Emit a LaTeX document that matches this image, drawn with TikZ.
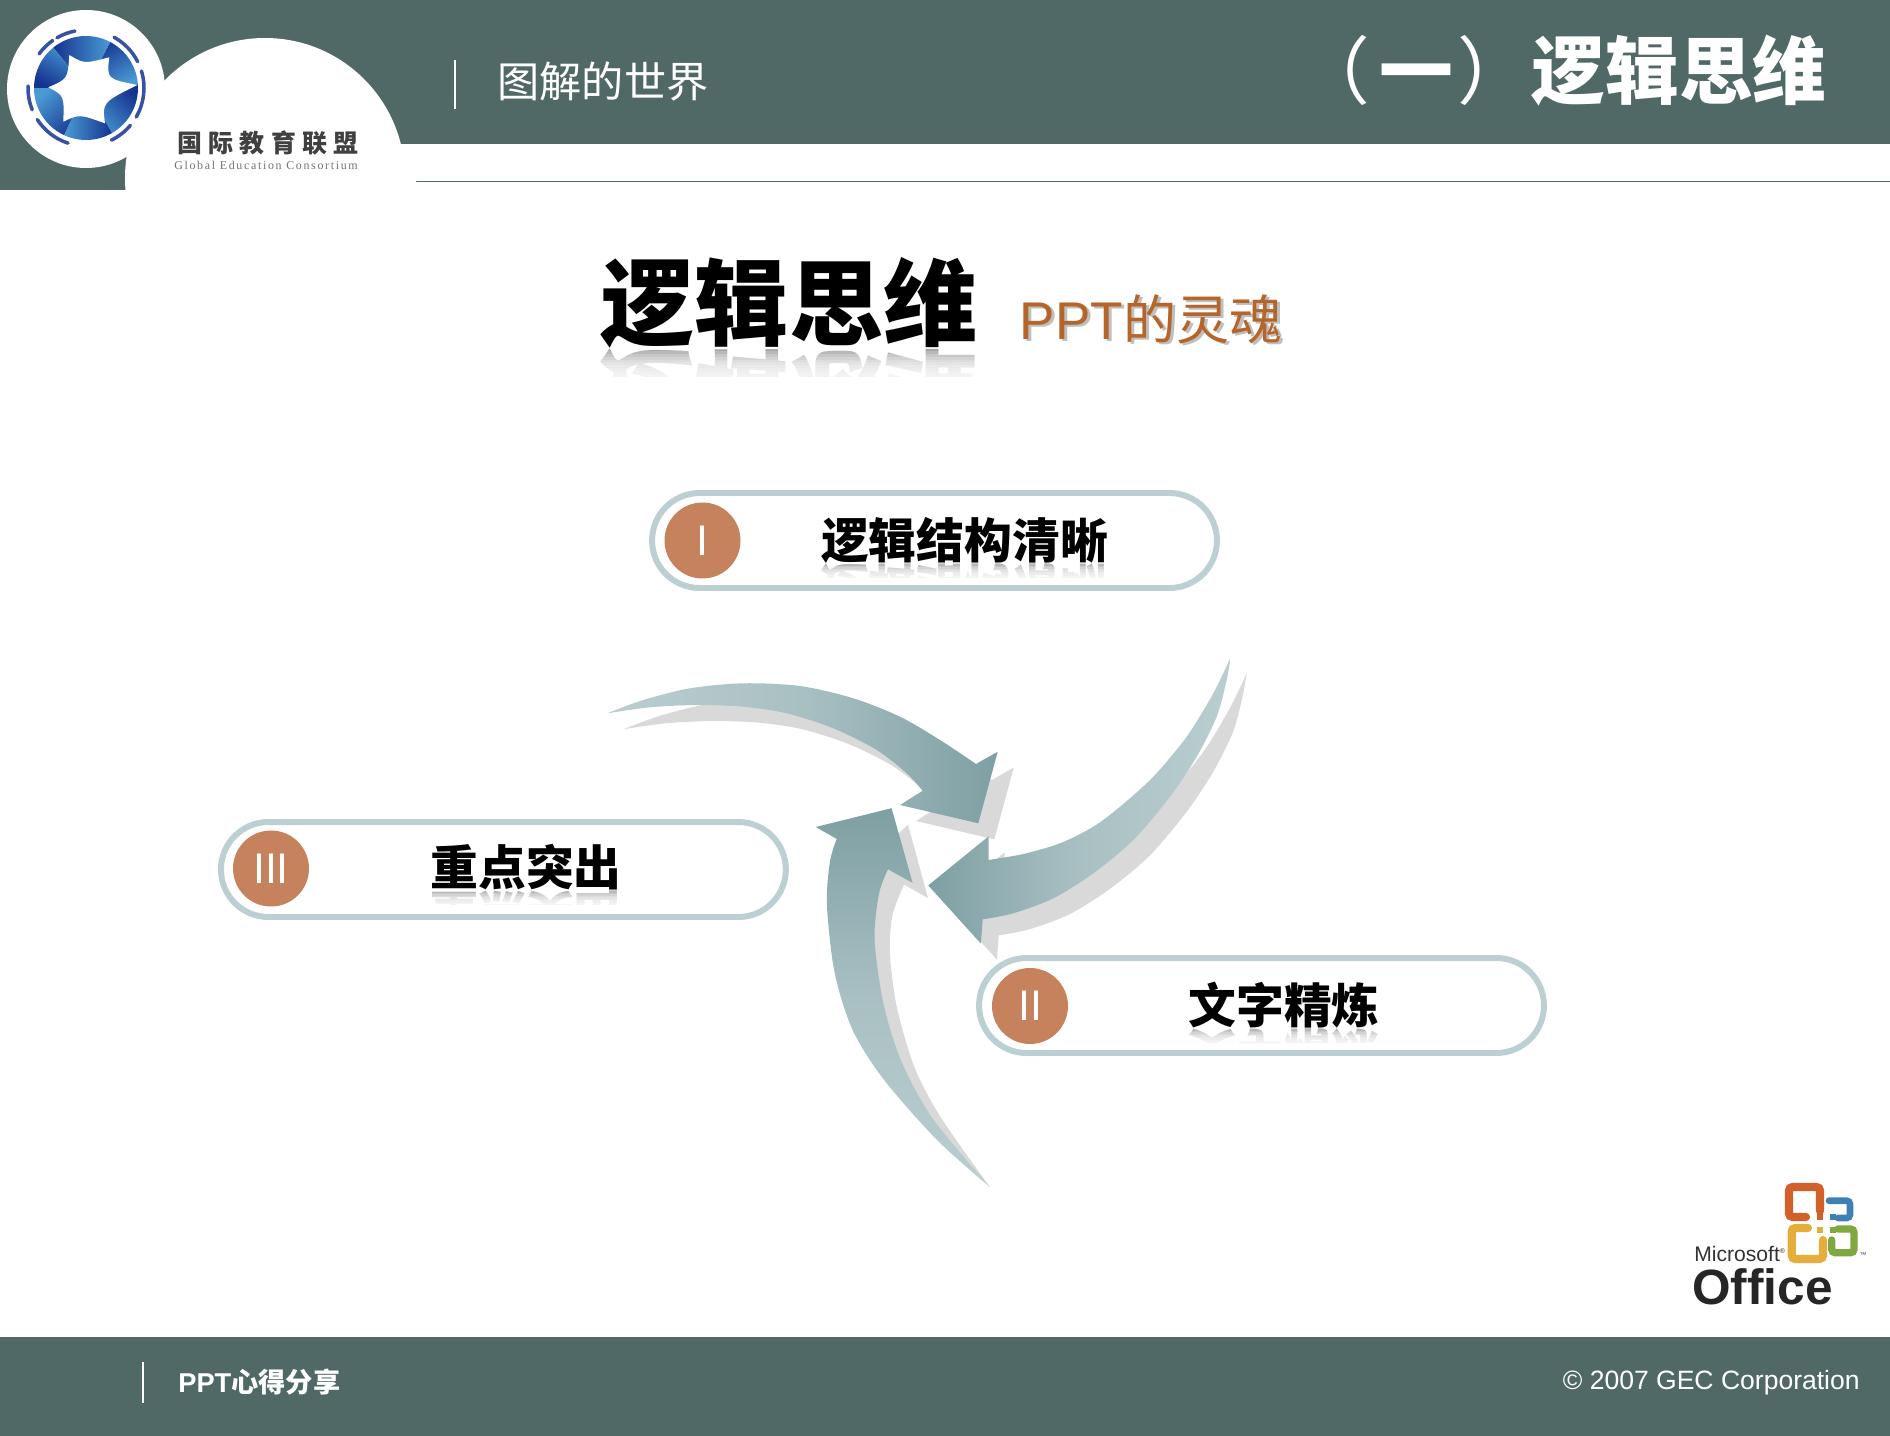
\documentclass[tikz,border=0pt]{standalone}
\usepackage{xcolor}
\usepackage{fontspec}
\usepackage{tikz}
\setmainfont{Liberation Sans}
\newfontfamily\cjk{Noto Sans CJK SC}
\newfontfamily\cjklogo[LetterSpace=25]{Noto Sans CJK SC}
\newfontfamily\serlogo[LetterSpace=14]{Liberation Serif}
\definecolor{bandgreen}{HTML}{516966}
\definecolor{pillgrey}{HTML}{BCCFD2}
\definecolor{numorange}{HTML}{C6825C}
\definecolor{soulbrown}{HTML}{B5652A}
\definecolor{shadowgrey}{HTML}{D9D9D9}
\definecolor{arrowlight}{HTML}{BACED0}
\definecolor{arrowmid}{HTML}{A9C0C3}
\definecolor{arrowdark}{HTML}{7E9FA3}
\definecolor{logodark}{HTML}{15348F}
\definecolor{logolight}{HTML}{4A9AD4}
\definecolor{offorange}{HTML}{D2602A}
\definecolor{offblue}{HTML}{3F7FB5}
\definecolor{offyellow}{HTML}{E5AE3A}
\definecolor{offgreen}{HTML}{7FA843}
\tikzset{
 pill/.style={draw=pillgrey, line width=3.4pt, fill=white, minimum width=11.3cm,
  minimum height=1.9cm, rounded corners=.95cm, inner sep=0},
 numcircle/.style={circle, fill=numorange, minimum size=1.52cm, inner sep=0,
  text=white, font=\fontsize{24.4}{26}\selectfont},
 pilltext/.style={inner sep=0, font=\fontsize{27.2}{30}\selectfont\cjk\bfseries},
 titletext/.style={inner sep=0, font=\fontsize{53.6}{58}\selectfont\cjk\bfseries},
 soultext/.style={inner sep=0, font=\fontsize{30.2}{33}\selectfont},
 bandtext/.style={inner sep=0, text=white},
 officebar/.style={line width=4.6pt, rounded corners=2pt, line cap=round},
}
\newcommand{\arrowA}{plot[smooth] coordinates {(607.3,713.3) (643.3,700) (690,688.3)
 (743.3,683.3) (800,686) (853.3,698.3) (900,716.7) (940,740) (976,764)}
 -- (997.7,751.7) -- (978.3,823.3) -- (900,805) -- (922.7,790.7)
 -- plot[smooth] coordinates {(922.7,790.7) (906.7,773.3) (876.7,750) (833.3,728.3)
 (786.7,713.3) (743.3,706.7) (696.7,705) (650,707.3) (607.3,713.3)} -- cycle}
\newcommand{\arrowB}{plot[smooth] coordinates {(1230.7,657.3) (1213.3,693.3)
 (1186.7,736.7) (1153.3,776.7) (1120,806.7) (1093.3,826.7) (1060,843.3) (1023.3,854) (988.5,860)}
 -- (988.5,836.4) -- (928.2,885.4) -- (980.9,943.6) -- (982.7,919.3)
 -- plot[smooth] coordinates {(982.7,919.3) (1013.3,913.3) (1053.3,898.3) (1093.3,873.3)
 (1133.3,840) (1170,796.7) (1196.7,756.7) (1216.7,716.7) (1226.7,680) (1230.7,657.3)} -- cycle}
\newcommand{\arrowC}{plot[smooth] coordinates {(989.8,1187) (937,1140)
 (883.6,1079.3) (852.3,1029.3) (834.5,972) (826.9,904.3) (830,861.4) (836.7,839)}
 -- (815.7,827) -- (891.6,808.2) -- (912.6,882.9) -- (888,869.3)
 -- plot[smooth] coordinates {(888,869.3) (879,893.6) (874.6,940)
 (883.6,1004.3) (901.4,1061.4) (932.7,1118.6) (989.8,1187)} -- cycle}
\newcommand{\shadowC}{(908,824.6) -- (928,898) -- (904,884.6)
 -- plot[smooth] coordinates {(904,884.6) (892.5,915) (890,954) (897,1008)
 (915,1068.6) (941.6,1118.6) (989.8,1187)} -- (925,1118) -- (890,1060) -- (870,1000) -- (860,870) -- cycle}
\newcommand{\mirrortext}[6]{
 \begin{scope}
  \clip ({#2-200},#3) rectangle ({#2+200},{#3+.32*#4});
  \node[#5, text=black!45] (#1) at (#2,{#3+.5*#4+1}) {\scalebox{1}[-1]{#6}};
  \foreach \s in {0,1,...,9} {
   \fill[white, opacity=.22] ({#2-200},{#3+.032*#4*\s}) rectangle ({#2+200},{#3+.32*#4});
  }
 \end{scope}
}

\begin{document}
\begin{tikzpicture}[x=.02cm, y=-.02cm]
\useasboundingbox (0,0) rectangle (1890,1436);
\fill[white] (0,0) rectangle (1890,1436);
% bands
\fill[bandgreen] (0,0) rectangle (1890,144);
\fill[bandgreen] (0,144) rectangle (126,190);
\fill[bandgreen] (126,144) rectangle (140,170);
\fill[bandgreen] (0,1337) rectangle (1890,1436);
\draw[bandgreen, line width=.9pt] (416,181.5) -- (1890,181.5);
\fill[white] (265,178) circle (140);
\fill[white] (86,89) circle (79);
% logo
\foreach \a/\b/\t in {231/298/-90, 298/356/-150, 356/420/135, 420/475/90, 475/540/45, 540/591/-30} {
 \shade[top color=logolight, bottom color=logodark, shading angle=\t]
  (86,88) -- +(\a:52) arc[start angle=\a, end angle=\b, radius=52] -- cycle;
}
\fill[white] (48.3,87.3) .. controls (67.8,78.85) .. (69.3,55)
 .. controls (84.1,63.85) .. (109.3,57.3) .. controls (106.7,78.85) .. (137.3,85)
 .. controls (102.25,102.45) .. (105,123.3) .. controls (79.25,114.1) .. (63.3,121.7)
 .. controls (64.2,95.5) .. (48.3,87.3) -- cycle;
\foreach \a/\b in {216/235, 240/259, 299/333, 343/390, 400/424, 468/507, 518/542} {
 \draw[logodark!85!white, line width=2pt, line cap=round] (86,88) ++(\a:58) arc[start angle=\a, end angle=\b, radius=58];
}
\node[inner sep=0, text=black!75] (logocn) at (268,143) {\fontsize{14.2}{16}\selectfont\cjklogo\bfseries 国际教育联盟};
\node[inner sep=0, text=black!55] (logoen) at (266,165) {\fontsize{6.8}{8}\selectfont\serlogo Global Education Consortium};
% header and footer
\draw[white, line width=.9pt] (455,60) -- (455,109);
\node[bandtext] (topic) at (603,82) {\fontsize{24}{26}\selectfont\cjk 图解的世界};
\node[bandtext, anchor=east] (chapter) at (1827,71) {\fontsize{42}{46}\selectfont\cjk （\kern5pt\bfseries 一\kern2.5pt\mdseries ）\bfseries 逻辑思维};
\draw[white, line width=.9pt] (143,1362) -- (143,1403);
\node[bandtext, anchor=west] (share) at (178,1382) {\fontsize{15.5}{17}\selectfont\bfseries PPT\cjk 心得分享};
\node[bandtext, anchor=east] (copyr) at (1860,1383) {\fontsize{15.1}{17}\selectfont © 2007 GEC Corporation};
% title
\node[titletext] (title) at (789,303) {逻辑思维};
\mirrortext{titlemirror}{789}{348}{90}{titletext}{逻辑思维}
\node[soultext, text=black!25, anchor=west] (soulshadow) at (1022.5,321.5) {PPT\cjk 的灵魂};
\node[soultext, text=soulbrown, anchor=west] (soul) at (1019.5,319) {PPT\cjk 的灵魂};
% arrows
\fill[shadowgrey, shift={(16,16)}] \arrowA;
\shade[left color=arrowlight, right color=arrowdark, middle color=arrowmid] \arrowA;
\fill[shadowgrey, shift={(16,16)}] \arrowB;
\shade[left color=arrowdark, right color=arrowlight, middle color=arrowmid] \arrowB;
\fill[shadowgrey] \shadowC;
\shade[top color=arrowdark, bottom color=arrowlight, middle color=arrowmid] \arrowC;
% pills
\node[pill] (pillone) at (934.5,540.5) {};
\node[pill] (pilltwo) at (1261.5,1005.5) {};
\node[pill] (pillthree) at (503.4,869.5) {};
\node[numcircle] (numone) at (702.5,540.5) {I};
\node[numcircle] (numtwo) at (1030,1006) {II};
\node[numcircle] (numthree) at (271,868.5) {III};
\node[pilltext] (textone) at (964.5,540) {逻辑结构清晰};
\mirrortext{onemirror}{964.5}{563}{46}{pilltext}{逻辑结构清晰}
\node[pilltext] (texttwo) at (1284,1005) {文字精炼};
\mirrortext{twomirror}{1284}{1028}{46}{pilltext}{文字精炼}
\node[pilltext] (textthree) at (526,867) {重点突出};
\mirrortext{threemirror}{526}{890}{46}{pilltext}{重点突出}
% office logo
\draw[officebar, draw=offorange] (1820,1211) -- (1820,1187) -- (1789,1187) -- (1789,1217) -- (1806,1217);
\draw[officebar, draw=offblue, line width=3.8pt] (1829,1200.7) -- (1850,1200.7) -- (1850,1218) -- (1838,1218);
\draw[officebar, draw=offyellow] (1808,1228) -- (1791.7,1228) -- (1791.7,1259) -- (1823,1259) -- (1823,1240);
\draw[officebar, draw=offgreen, line width=4.2pt] (1838,1229) -- (1854,1229) -- (1854,1252.7) -- (1831.7,1252.7) -- (1831.7,1240);
\foreach \x/\y/\c in {1820/1217.3/offorange, 1832.7/1217.3/offblue, 1820/1230/offyellow, 1832.7/1230/offgreen} {
 \fill[\c] (\x-3,\y-3) rectangle (\x+3,\y+3);
}
\node[inner sep=0, text=black!80, anchor=west] (msoft) at (1694,1254) {\fontsize{12}{14}\selectfont Microsoft\textsuperscript{\fontsize{4}{4}\selectfont ®}};
\node[inner sep=0, text=black!85, anchor=west] (office) at (1692,1287) {\fontsize{28.2}{31}\selectfont\bfseries Office};
\node[inner sep=0, text=black!70] (officetm) at (1863,1255) {\fontsize{4}{5}\selectfont ™};
\end{tikzpicture}
\end{document}
